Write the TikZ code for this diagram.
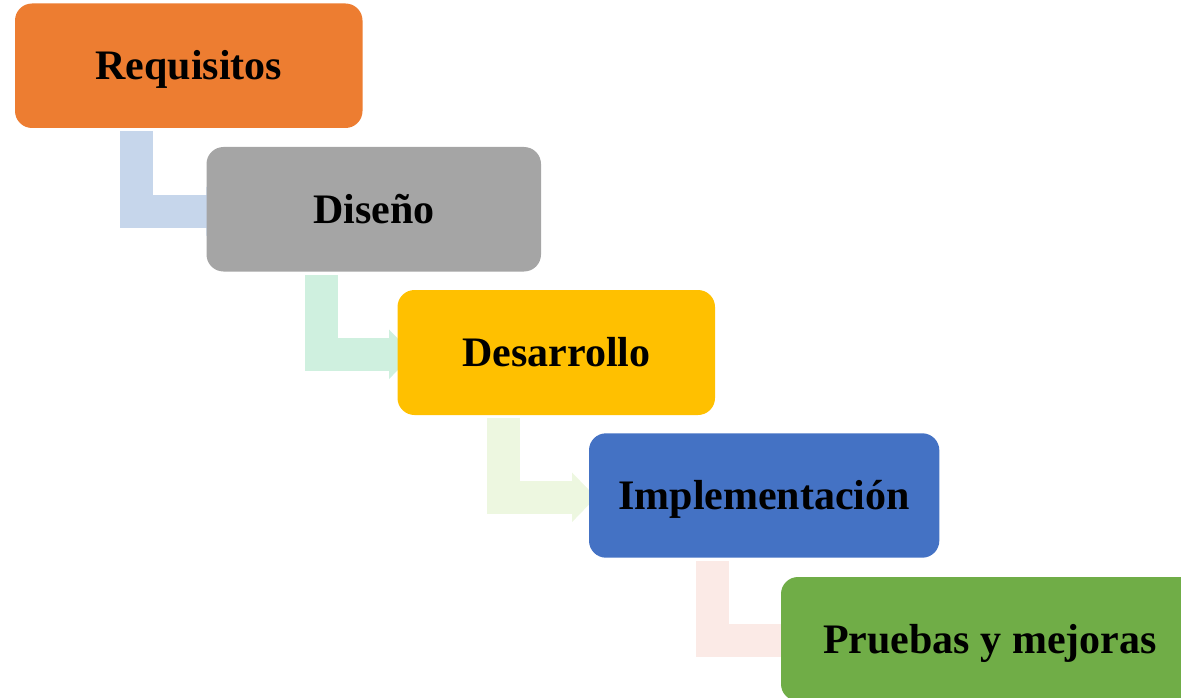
\documentclass[tikz,border=0pt]{standalone}
\usepackage{fontspec}
\setmainfont{Liberation Serif}
\usetikzlibrary{arrows.meta,calc}
\definecolor{cReq}{HTML}{ED7D31}
\definecolor{cDis}{HTML}{A5A5A5}
\definecolor{cDes}{HTML}{FFC000}
\definecolor{cImp}{HTML}{4472C4}
\definecolor{cPru}{HTML}{70AD47}
\definecolor{aOne}{HTML}{C6D6EB}
\definecolor{aTwo}{HTML}{CFF0DF}
\definecolor{aThree}{HTML}{EDF7E0}
\definecolor{aFour}{HTML}{FBEAE6}
\begin{document}
\begin{tikzpicture}[x=1pt,y=-1pt,
  stepbox/.style={rounded corners=17pt, inner sep=0pt, text=black,
    text height=28pt, text depth=0pt,
    font=\fontsize{42}{50}\selectfont\bfseries},
  bentarrow/.style={line width=33pt, line cap=butt, line join=miter,
    -{Triangle[length=24pt,width=48pt]}}]
\useasboundingbox (0,0) rectangle (1181,698);
\clip (0,0) rectangle (1181,698);
% box positions
\path (188.75,65.75) node[stepbox, minimum width=347.5pt, minimum height=124.5pt] (req) {};
\path (373.75,209.25) node[stepbox, minimum width=334.5pt, minimum height=124.5pt] (dis) {};
\path (556.25,352.5) node[stepbox, minimum width=317.5pt, minimum height=125pt] (des) {};
\path (764.15,495.5) node[stepbox, minimum width=350.3pt, minimum height=124.4pt] (imp) {};
\path (990,639) node[stepbox, minimum width=418pt, minimum height=124pt] (pru) {};
% connectors
\draw[bentarrow, draw=aOne] ($(req.south west)+(121.3,3)$) |- ($(dis.west)+(24,2.1)$);
\draw[bentarrow, draw=aTwo] ($(dis.south west)+(114.8,3.5)$) |- ($(des.west)+(15.8,1.8)$);
\draw[bentarrow, draw=aThree] ($(des.south west)+(106.5,2.3)$) |- ($(imp.west)+(7.3,1.8)$);
\draw[bentarrow, draw=aFour] ($(imp.south west)+(123.3,3.3)$) |- ($(pru.west)+(26,1.8)$);
% visible boxes
\node[stepbox, fill=cReq, minimum width=347.5pt, minimum height=124.5pt] at (req) {Requisitos};
\node[stepbox, fill=cDis, minimum width=334.5pt, minimum height=124.5pt] at (dis) {Diseño};
\node[stepbox, fill=cDes, minimum width=317.5pt, minimum height=125pt] at (des) {Desarrollo};
\node[stepbox, fill=cImp, minimum width=350.3pt, minimum height=124.4pt] at (imp) {Implementación};
\node[stepbox, fill=cPru, minimum width=418pt, minimum height=124pt] at (pru) {Pruebas y mejoras};
\end{tikzpicture}
\end{document}
